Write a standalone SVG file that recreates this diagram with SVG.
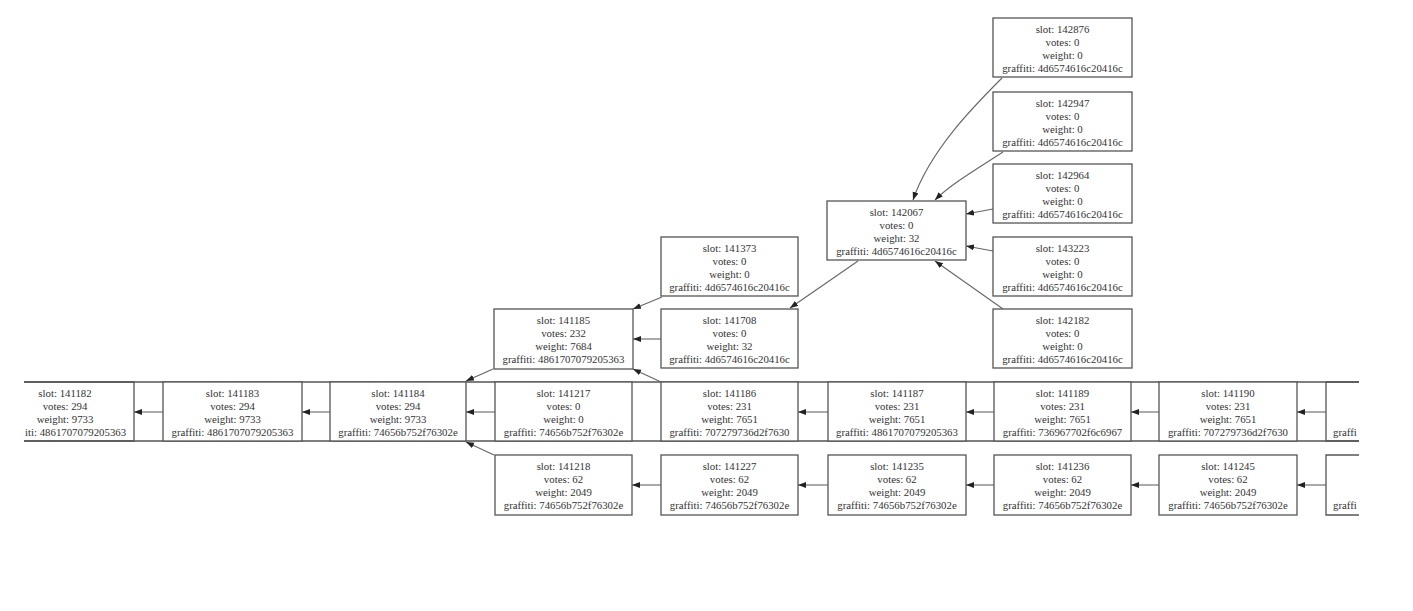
<svg xmlns="http://www.w3.org/2000/svg" width="1413" height="611" viewBox="0 0 1413 611">
<style>
.b{fill:#fff;stroke:#555;stroke-width:1.3}
.o{fill:none;stroke:#555;stroke-width:1.3}
.t{font-family:"Liberation Serif","Times New Roman",serif;font-size:10.8px;fill:#333;text-anchor:middle}
.ts{font-family:"Liberation Serif","Times New Roman",serif;font-size:10.8px;fill:#333;text-anchor:start}
.e{fill:none;stroke:#666;stroke-width:1.1;marker-end:url(#a)}
</style>
<defs>
<marker id="a" markerWidth="9" markerHeight="7" refX="8" refY="3" orient="auto" markerUnits="userSpaceOnUse">
<path d="M0,0 L8,3 L0,6 z" fill="#222"/>
</marker>
</defs>
<rect width="1413" height="611" fill="#fff"/>
<g id="rowlines">
<line class="o" x1="24" y1="382" x2="1359" y2="382"/>
<line class="o" x1="24" y1="441" x2="1359" y2="441"/>
</g>
<g id="connectors">
<path class="e" d="M1002,78 C975,105 930,150 913,200"/>
<path class="e" d="M1003,152 C975,170 950,185 935,200"/>
<path class="e" d="M993,209 L966,214"/>
<path class="e" d="M993,251 L966,246"/>
<path class="e" d="M1003,309 L935,261"/>
<path class="e" d="M858,261 L790,308"/>
<path class="e" d="M662,297 L633,309"/>
<path class="e" d="M661,339 L633,339"/>
<path class="e" d="M493,369 L466,381"/>
<path class="e" d="M661,382 L633,369"/>
<path class="e" d="M495,412 L466,412"/>
<path class="e" d="M494,455 L466,442"/>
<path class="e" d="M163,412 L134,412"/>
<path class="e" d="M330,412 L302,412"/>
<path class="e" d="M828,412 L798,412"/>
<path class="e" d="M994,412 L966,412"/>
<path class="e" d="M1159,412 L1131,412"/>
<path class="e" d="M1326,412 L1297,412"/>
<path class="e" d="M661,485 L632,485"/>
<path class="e" d="M828,485 L798,485"/>
<path class="e" d="M994,485 L966,485"/>
<path class="e" d="M1159,485 L1131,485"/>
<path class="e" d="M1326,485 L1297,485"/>
</g>
<g id="n142876"><rect class="b" x="993" y="18" width="139" height="59"/><text class="t"><tspan x="1062.5" y="32.5">slot: 142876</tspan><tspan x="1062.5" y="45.8">votes: 0</tspan><tspan x="1062.5" y="59.1">weight: 0</tspan><tspan x="1062.5" y="72.4">graffiti: 4d6574616c20416c</tspan></text></g>
<g id="n142947"><rect class="b" x="993" y="92" width="139" height="59"/><text class="t"><tspan x="1062.5" y="106.5">slot: 142947</tspan><tspan x="1062.5" y="119.8">votes: 0</tspan><tspan x="1062.5" y="133.1">weight: 0</tspan><tspan x="1062.5" y="146.4">graffiti: 4d6574616c20416c</tspan></text></g>
<g id="n142964"><rect class="b" x="993" y="164" width="139" height="59"/><text class="t"><tspan x="1062.5" y="178.5">slot: 142964</tspan><tspan x="1062.5" y="191.8">votes: 0</tspan><tspan x="1062.5" y="205.1">weight: 0</tspan><tspan x="1062.5" y="218.4">graffiti: 4d6574616c20416c</tspan></text></g>
<g id="n143223"><rect class="b" x="993" y="237" width="139" height="59"/><text class="t"><tspan x="1062.5" y="251.5">slot: 143223</tspan><tspan x="1062.5" y="264.8">votes: 0</tspan><tspan x="1062.5" y="278.1">weight: 0</tspan><tspan x="1062.5" y="291.4">graffiti: 4d6574616c20416c</tspan></text></g>
<g id="n142182"><rect class="b" x="993" y="309" width="139" height="59"/><text class="t"><tspan x="1062.5" y="323.5">slot: 142182</tspan><tspan x="1062.5" y="336.8">votes: 0</tspan><tspan x="1062.5" y="350.1">weight: 0</tspan><tspan x="1062.5" y="363.4">graffiti: 4d6574616c20416c</tspan></text></g>
<g id="n142067"><rect class="b" x="827" y="201" width="139" height="59"/><text class="t"><tspan x="896.5" y="215.5">slot: 142067</tspan><tspan x="896.5" y="228.8">votes: 0</tspan><tspan x="896.5" y="242.1">weight: 32</tspan><tspan x="896.5" y="255.4">graffiti: 4d6574616c20416c</tspan></text></g>
<g id="n141373"><rect class="b" x="661" y="237" width="137" height="59"/><text class="t"><tspan x="729.5" y="251.5">slot: 141373</tspan><tspan x="729.5" y="264.8">votes: 0</tspan><tspan x="729.5" y="278.1">weight: 0</tspan><tspan x="729.5" y="291.4">graffiti: 4d6574616c20416c</tspan></text></g>
<g id="n141708"><rect class="b" x="661" y="309" width="137" height="59"/><text class="t"><tspan x="729.5" y="323.5">slot: 141708</tspan><tspan x="729.5" y="336.8">votes: 0</tspan><tspan x="729.5" y="350.1">weight: 32</tspan><tspan x="729.5" y="363.4">graffiti: 4d6574616c20416c</tspan></text></g>
<g id="n141185"><rect class="b" x="494" y="309" width="139" height="60"/><text class="t"><tspan x="563.5" y="323.5">slot: 141185</tspan><tspan x="563.5" y="336.8">votes: 232</tspan><tspan x="563.5" y="350.1">weight: 7684</tspan><tspan x="563.5" y="363.4">graffiti: 4861707079205363</tspan></text></g>
<g id="n141182"><path class="o" d="M24,382 H134 V441 H24"/><text class="t"><tspan x="65" y="396.5">slot: 141182</tspan><tspan x="65" y="409.8">votes: 294</tspan><tspan x="65" y="423.1">weight: 9733</tspan></text><text class="ts" x="25" y="436.4">iti: 4861707079205363</text></g>
<g id="n141183"><rect class="b" x="163" y="382" width="139" height="59"/><text class="t"><tspan x="232.5" y="396.5">slot: 141183</tspan><tspan x="232.5" y="409.8">votes: 294</tspan><tspan x="232.5" y="423.1">weight: 9733</tspan><tspan x="232.5" y="436.4">graffiti: 4861707079205363</tspan></text></g>
<g id="n141184"><rect class="b" x="330" y="382" width="136" height="59"/><text class="t"><tspan x="398" y="396.5">slot: 141184</tspan><tspan x="398" y="409.8">votes: 294</tspan><tspan x="398" y="423.1">weight: 9733</tspan><tspan x="398" y="436.4">graffiti: 74656b752f76302e</tspan></text></g>
<g id="n141217"><rect class="b" x="495" y="382" width="137" height="59"/><text class="t"><tspan x="563.5" y="396.5">slot: 141217</tspan><tspan x="563.5" y="409.8">votes: 0</tspan><tspan x="563.5" y="423.1">weight: 0</tspan><tspan x="563.5" y="436.4">graffiti: 74656b752f76302e</tspan></text></g>
<g id="n141186"><rect class="b" x="661" y="382" width="137" height="59"/><text class="t"><tspan x="729.5" y="396.5">slot: 141186</tspan><tspan x="729.5" y="409.8">votes: 231</tspan><tspan x="729.5" y="423.1">weight: 7651</tspan><tspan x="729.5" y="436.4">graffiti: 707279736d2f7630</tspan></text></g>
<g id="n141187"><rect class="b" x="828" y="382" width="138" height="59"/><text class="t"><tspan x="897" y="396.5">slot: 141187</tspan><tspan x="897" y="409.8">votes: 231</tspan><tspan x="897" y="423.1">weight: 7651</tspan><tspan x="897" y="436.4">graffiti: 4861707079205363</tspan></text></g>
<g id="n141189"><rect class="b" x="994" y="382" width="137" height="59"/><text class="t"><tspan x="1062.5" y="396.5">slot: 141189</tspan><tspan x="1062.5" y="409.8">votes: 231</tspan><tspan x="1062.5" y="423.1">weight: 7651</tspan><tspan x="1062.5" y="436.4">graffiti: 736967702f6c6967</tspan></text></g>
<g id="n141190"><rect class="b" x="1159" y="382" width="138" height="59"/><text class="t"><tspan x="1228" y="396.5">slot: 141190</tspan><tspan x="1228" y="409.8">votes: 231</tspan><tspan x="1228" y="423.1">weight: 7651</tspan><tspan x="1228" y="436.4">graffiti: 707279736d2f7630</tspan></text></g>
<g id="ncut1"><path class="o" d="M1359,382 H1326 V441 H1359"/><text class="ts" x="1333" y="436.4">graffi</text></g>
<g id="n141218"><rect class="b" x="495" y="455" width="137" height="60"/><text class="t"><tspan x="563.5" y="469.5">slot: 141218</tspan><tspan x="563.5" y="482.8">votes: 62</tspan><tspan x="563.5" y="496.1">weight: 2049</tspan><tspan x="563.5" y="509.4">graffiti: 74656b752f76302e</tspan></text></g>
<g id="n141227"><rect class="b" x="661" y="455" width="137" height="60"/><text class="t"><tspan x="729.5" y="469.5">slot: 141227</tspan><tspan x="729.5" y="482.8">votes: 62</tspan><tspan x="729.5" y="496.1">weight: 2049</tspan><tspan x="729.5" y="509.4">graffiti: 74656b752f76302e</tspan></text></g>
<g id="n141235"><rect class="b" x="828" y="455" width="138" height="60"/><text class="t"><tspan x="897" y="469.5">slot: 141235</tspan><tspan x="897" y="482.8">votes: 62</tspan><tspan x="897" y="496.1">weight: 2049</tspan><tspan x="897" y="509.4">graffiti: 74656b752f76302e</tspan></text></g>
<g id="n141236"><rect class="b" x="994" y="455" width="137" height="60"/><text class="t"><tspan x="1062.5" y="469.5">slot: 141236</tspan><tspan x="1062.5" y="482.8">votes: 62</tspan><tspan x="1062.5" y="496.1">weight: 2049</tspan><tspan x="1062.5" y="509.4">graffiti: 74656b752f76302e</tspan></text></g>
<g id="n141245"><rect class="b" x="1159" y="455" width="138" height="60"/><text class="t"><tspan x="1228" y="469.5">slot: 141245</tspan><tspan x="1228" y="482.8">votes: 62</tspan><tspan x="1228" y="496.1">weight: 2049</tspan><tspan x="1228" y="509.4">graffiti: 74656b752f76302e</tspan></text></g>
<g id="ncut2"><path class="o" d="M1359,455 H1326 V515 H1359"/><text class="ts" x="1333" y="509.4">graffi</text></g>
</svg>
